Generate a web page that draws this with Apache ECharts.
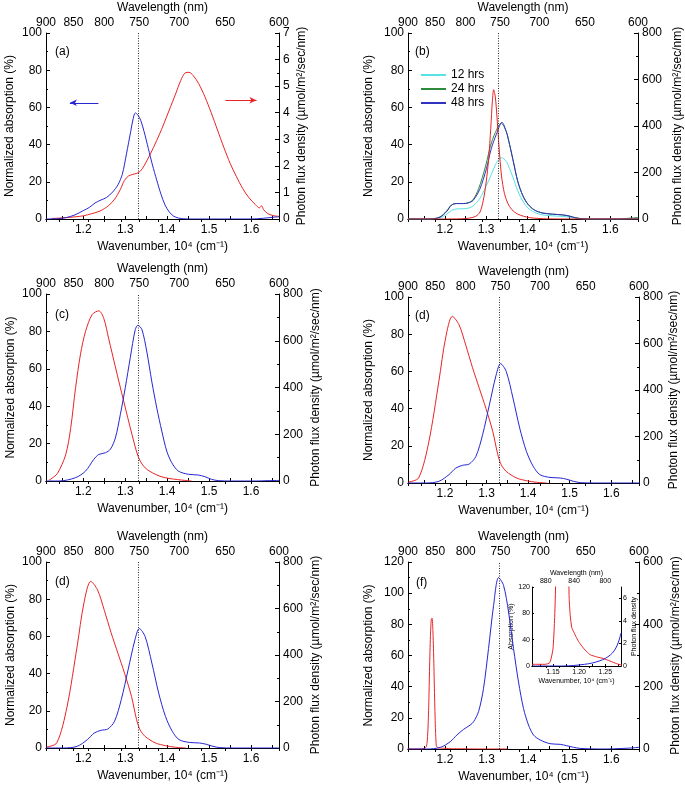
<!DOCTYPE html>
<html><head><meta charset="utf-8">
<script src="https://cdn.jsdelivr.net/npm/echarts@6/dist/echarts.min.js"></script>
<style>html,body{margin:0;padding:0;background:#fff}#c{width:685px;height:787px}</style>
</head><body><div id="c"></div><script>
// ---------- axis tick definitions ----------
const wlLabels = [900, 850, 800, 750, 700, 650, 600];          // nm (top axis)
const wlTicks = [900, 875, 850, 825, 800, 775, 750, 725, 700, 675, 650, 625, 600];
const wnLabels = [1.2, 1.3, 1.4, 1.5, 1.6];                     // 10^4 cm^-1 (bottom axis)
const wnTicks = [1.15, 1.2, 1.25, 1.3, 1.35, 1.4, 1.45, 1.5, 1.55, 1.6, 1.65];
const insetWlLabels = [880, 840, 800];
const insetWlTicks = [880, 860, 840, 820, 800];
const insetWnLabels = [1.15, 1.20, 1.25];
const insetWnTicks = [1.125, 1.15, 1.175, 1.2, 1.225, 1.25, 1.275];
const refWavelength = 750;                                      // dotted line (nm)
const legendNames = ['12 hrs', '24 hrs', '48 hrs'];
const panelLabels = ['(a)', '(b)', '(c)', '(d)', '(d)', '(f)'];

// ---------- data: [wavenumber (10^4 cm^-1), value] ----------
// (a) absorption (%) and photon flux (right axis, 0-7)
const absA = [[1.111,0],[1.14,0.2],[1.16,0.8],[1.18,2.2],[1.20,4.5],[1.215,6.3],[1.228,8.6],[1.24,10],[1.255,11.5],[1.27,14.5],[1.283,18.5],[1.293,24],[1.303,35],[1.313,47],[1.319,54],[1.324,57],[1.33,56],[1.337,53],[1.345,47],[1.355,38],[1.365,29],[1.375,21],[1.385,13.5],[1.395,7.5],[1.405,3.8],[1.415,1.6],[1.427,0.5],[1.44,0.1],[1.46,0],[1.6,0],[1.63,0.4],[1.65,0.9],[1.667,1.2]];
const fluxA = [[1.125,0.02],[1.15,0.04],[1.18,0.08],[1.2,0.12],[1.22,0.2],[1.24,0.3],[1.26,0.5],[1.275,0.75],[1.288,1.1],[1.298,1.45],[1.308,1.62],[1.318,1.68],[1.328,1.72],[1.336,1.8],[1.345,2.0],[1.36,2.45],[1.375,2.95],[1.39,3.5],[1.405,4.1],[1.42,4.7],[1.432,5.2],[1.443,5.5],[1.452,5.52],[1.462,5.4],[1.475,5.1],[1.49,4.6],[1.505,4.0],[1.52,3.35],[1.535,2.7],[1.55,2.1],[1.565,1.6],[1.58,1.15],[1.595,0.8],[1.61,0.55],[1.62,0.42],[1.625,0.5],[1.63,0.35],[1.64,0.2],[1.655,0.12],[1.667,0.1]];
const arrowAbsA = [[1.236,62.5],[1.168,62.5]];
const arrowFluxA = [[1.539,4.47],[1.613,4.47]];

// (b) absorption after 12/24/48 hrs and photon flux (0-800)
const abs12B = [[1.111,0],[1.1644,0],[1.1884,0.6],[1.2044,2.5],[1.2164,4.6],[1.2284,5.4],[1.2444,5.5],[1.2564,5.8],[1.2685,7],[1.2845,11],[1.3005,18],[1.3125,24],[1.3245,30],[1.3365,33],[1.3485,31],[1.3565,27],[1.3645,22.5],[1.3765,15],[1.3886,9.5],[1.4006,6],[1.4166,3.5],[1.4366,2.2],[1.4606,1.7],[1.4846,1.4],[1.5006,1],[1.5166,0.4],[1.5327,0.1],[1.5567,0],[1.64,0],[1.667,0.3]];
const abs24B = [[1.111,0],[1.164,0],[1.188,1.1],[1.204,4.2],[1.216,7.6],[1.228,8.3],[1.244,8.3],[1.256,8.7],[1.268,10.3],[1.282,16.5],[1.298,28],[1.31,39],[1.322,46.5],[1.336,51.5],[1.3485,47],[1.3565,40],[1.3645,32],[1.3765,20],[1.3886,12.5],[1.4006,8],[1.4166,4.8],[1.4366,3.2],[1.4606,2.6],[1.4846,2.2],[1.5006,1.6],[1.5166,0.6],[1.5327,0.15],[1.5567,0],[1.62,0],[1.645,0.4],[1.667,0.8]];
const abs48B = [[1.111,0],[1.1644,0],[1.1884,1],[1.2044,4],[1.2164,7.5],[1.2284,8.3],[1.2444,8.3],[1.2564,8.6],[1.2685,10],[1.2845,16],[1.3005,27],[1.3125,38],[1.3245,45.5],[1.3381,52],[1.3485,47],[1.3565,40],[1.3645,32],[1.3765,20],[1.3886,12.5],[1.4006,8],[1.4166,4.8],[1.4366,3.2],[1.4606,2.6],[1.4846,2.2],[1.5006,1.6],[1.5166,0.6],[1.5327,0.15],[1.5567,0],[1.667,0]];
const fluxB = [[1.111,0],[1.2,0],[1.24,1],[1.26,4],[1.275,12],[1.285,30],[1.293,80],[1.3,160],[1.306,260],[1.311,390],[1.315,510],[1.318,556],[1.322,525],[1.326,440],[1.331,310],[1.337,185],[1.344,110],[1.352,68],[1.362,40],[1.375,22],[1.39,12],[1.405,6],[1.425,2.5],[1.45,0.6],[1.5,0],[1.667,0]];

// (c)
const absC = [[1.111,0],[1.1421,0],[1.1817,1.8],[1.2054,5.3],[1.2251,11.6],[1.237,14.2],[1.2528,15.1],[1.2647,17],[1.2765,23],[1.2884,35.6],[1.3002,50],[1.3121,66],[1.324,81],[1.3303,83.3],[1.3398,81],[1.3516,69],[1.3635,53],[1.3753,39],[1.3872,26.7],[1.399,16],[1.4109,9.8],[1.4267,5.3],[1.4504,3.6],[1.4741,3.2],[1.49,2.3],[1.5058,0.9],[1.5216,0.2],[1.5532,0],[1.6165,0],[1.6402,0.2],[1.667,0.3]];
const fluxC = [[1.118,4],[1.1224,8],[1.1382,32],[1.158,112],[1.1698,224],[1.1817,400],[1.1935,544],[1.2054,640],[1.2212,712],[1.237,728],[1.2488,696],[1.2607,608],[1.2765,488],[1.2963,342],[1.316,200],[1.3319,100],[1.3477,56],[1.3714,29],[1.3951,14],[1.4346,4],[1.4583,0]];

// (d) (same measurement shown twice)
const absD = [[1.111,0],[1.153,0],[1.1854,0.9],[1.2097,4.5],[1.2259,8],[1.2421,9.5],[1.2583,10.2],[1.2744,14.3],[1.2906,26],[1.3068,42],[1.323,58],[1.3336,64.2],[1.3473,60],[1.3635,45.7],[1.3797,29.6],[1.3959,17],[1.4121,9],[1.4283,4.5],[1.4526,3],[1.4769,2.7],[1.4931,2],[1.5093,0.9],[1.5255,0.2],[1.5579,0],[1.667,0]];
const fluxD = [[1.1125,4],[1.1368,22],[1.1611,176],[1.1854,438],[1.2016,624],[1.2178,717],[1.234,680],[1.2502,592],[1.2663,496],[1.2825,408],[1.2987,320],[1.3149,222],[1.3271,122],[1.3352,79],[1.3473,50],[1.3716,22],[1.3959,10],[1.4202,3],[1.4445,0]];

// (f) main + inset
const absF = [[1.111,0],[1.1567,0],[1.1888,1],[1.2128,4.7],[1.2288,9],[1.2448,12.6],[1.2608,15.4],[1.2688,17.5],[1.2808,24],[1.2928,39],[1.3048,64.5],[1.3169,92],[1.3289,110],[1.3409,105],[1.3529,88],[1.3649,64.5],[1.3769,43],[1.3889,26],[1.4009,15.4],[1.4129,9],[1.4289,5.8],[1.4529,3.4],[1.477,3],[1.493,2.1],[1.509,1.1],[1.525,0.4],[1.549,0.1],[1.589,0],[1.621,0.3],[1.645,0.6],[1.667,1.1]];
const fluxF = [[1.11,0.15],[1.125,0.15],[1.135,0.15],[1.144,0.3],[1.15,1.5],[1.153,4],[1.155,7],[1.157,20],[1.159,60],[1.161,140],[1.163,260],[1.165,360],[1.167,415],[1.169,420],[1.171,380],[1.173,290],[1.175,170],[1.177,70],[1.179,12],[1.181,6],[1.183,4.5],[1.186,3.4],[1.19,3.0],[1.195,2.5],[1.2,2.1],[1.208,1.6],[1.215,1.25],[1.221,1.0],[1.234,0.8],[1.246,0.67],[1.259,0.44],[1.272,0.2],[1.28,0.1],[1.3,0.05],[1.35,0]];
const insetAbsF = [[1.11,0],[1.17,0],[1.19,0.8],[1.21,2.5],[1.225,4.5],[1.24,8],[1.25,11.5],[1.26,17],[1.267,23],[1.273,32],[1.277,41],[1.28,50]];

// ---------- styling / layout ----------
const FONT = 'Liberation Sans, Arial, Helvetica, sans-serif';
const BLUE = '#2626d4', RED = '#e82424', CYAN = '#55e3e3', GREEN = '#2f8a3c', NAVY = '#3232c0';
const wnMin = 1000 / 900, wnMax = 1000 / 600;
const FLUX_NAME = 'Photon flux density (\u00b5mol/m\u00b2/sec/nm)';
const DOT_STYLE = {type: [1, 1.5], color: '#333', width: 1};

const panels = [
  {rect: [46, 33, 233, 186],  yL: [0, 100, 20], yR: [0, 7, 1],     gapL: 30, gapR: 17},
  {rect: [408, 33, 231, 186], yL: [0, 100, 20], yR: [0, 800, 200], gapL: 33, gapR: 34},
  {rect: [46, 294, 233, 187], yL: [0, 100, 20], yR: [0, 800, 200], gapL: 29, gapR: 31},
  {rect: [408, 297, 231, 186], yL: [0, 100, 20], yR: [0, 800, 200], gapL: 33, gapR: 29},
  {rect: [46, 562, 233, 186], yL: [0, 100, 20], yR: [0, 800, 200], gapL: 29, gapR: 31},
  {rect: [408, 562, 231, 187], yL: [0, 120, 20], yR: [0, 600, 200], gapL: 33, gapR: 31}
];
const labelPos = [[55, 46], [415, 46], [55, 309], [415, 310], [55, 576], [416, 577]];

const grids = [], xAxes = [], yAxes = [], series = [], graphics = [];
const txt = (size) => ({fontSize: size, fontFamily: FONT, color: '#000'});
const line = {show: true, lineStyle: {color: '#000', width: 1}};

panels.forEach((p, i) => {
  grids.push({left: p.rect[0], top: p.rect[1], width: p.rect[2], height: p.rect[3], containLabel: false});
  xAxes.push({
    gridIndex: i, type: 'value', min: wnMin, max: wnMax, position: 'bottom',
    axisLine: line, splitLine: {show: false},
    axisTick: {inside: true, length: 3, customValues: wnTicks, lineStyle: {color: '#000'}},
    axisLabel: Object.assign({customValues: wnLabels, formatter: v => v.toFixed(1), margin: 5}, txt(12)),
    name: 'Wavenumber, 10\u2074 (cm\u207b\u00b9)', nameLocation: 'middle', nameGap: 22, nameTextStyle: txt(12)
  });
  xAxes.push({
    gridIndex: i, type: 'value', min: wnMin, max: wnMax, position: 'top',
    axisLine: line, splitLine: {show: false},
    axisTick: {inside: true, length: 3, customValues: wlTicks.map(w => 1000 / w), lineStyle: {color: '#000'}},
    axisLabel: Object.assign({customValues: wlLabels.map(w => 1000 / w), formatter: v => String(Math.round(1000 / v)), margin: 4}, txt(12)),
    name: 'Wavelength (nm)', nameLocation: 'middle', nameGap: 19, nameTextStyle: txt(12)
  });
  yAxes.push({
    gridIndex: i, type: 'value', min: p.yL[0], max: p.yL[1], interval: p.yL[2], position: 'left',
    axisLine: line, splitLine: {show: false},
    axisTick: {inside: true, length: 4, lineStyle: {color: '#000'}},
    minorTick: {show: true, splitNumber: 2, length: 2, lineStyle: {color: '#000'}},
    axisLabel: Object.assign({margin: 4}, txt(12)),
    name: 'Normalized absorption (%)', nameLocation: 'middle', nameGap: p.gapL, nameTextStyle: txt(12)
  });
  yAxes.push({
    gridIndex: i, type: 'value', min: p.yR[0], max: p.yR[1], interval: p.yR[2], position: 'right',
    axisLine: line, splitLine: {show: false},
    axisTick: {inside: true, length: 4, lineStyle: {color: '#000'}},
    minorTick: {show: true, splitNumber: 2, length: 2, lineStyle: {color: '#000'}},
    axisLabel: Object.assign({margin: 4}, txt(12)),
    name: FLUX_NAME, nameLocation: 'middle', nameGap: p.gapR, nameTextStyle: txt(12)
  });
  graphics.push({type: 'text', left: labelPos[i][0], top: labelPos[i][1],
    style: {text: panelLabels[i], font: '12px ' + FONT, fill: '#000'}});
});

// inset grid (index 6)
grids.push({left: 532, top: 587, width: 89, height: 79});
xAxes.push({
  gridIndex: 6, type: 'value', min: 1.11, max: 1.28, position: 'bottom',
  axisLine: line, splitLine: {show: false},
  axisTick: {inside: true, length: 2, customValues: insetWnTicks, lineStyle: {color: '#000'}},
  axisLabel: Object.assign({customValues: insetWnLabels, formatter: v => v.toFixed(2), margin: 3}, txt(7)),
  name: 'Wavenumber, 10\u2074 (cm\u207b\u00b9)', nameLocation: 'middle', nameGap: 12, nameTextStyle: txt(7)
});
xAxes.push({
  gridIndex: 6, type: 'value', min: 1.11, max: 1.28, position: 'top',
  axisLine: line, splitLine: {show: false},
  axisTick: {inside: true, length: 2, customValues: insetWlTicks.map(w => 1000 / w), lineStyle: {color: '#000'}},
  axisLabel: Object.assign({customValues: insetWlLabels.map(w => 1000 / w), formatter: v => String(Math.round(1000 / v)), margin: 2}, txt(7)),
  name: 'Wavelength (nm)', nameLocation: 'middle', nameGap: 10, nameTextStyle: txt(7)
});
yAxes.push({
  gridIndex: 6, type: 'value', min: 0, max: 120, interval: 40, position: 'left',
  axisLine: line, splitLine: {show: false},
  axisTick: {inside: true, length: 2, lineStyle: {color: '#000'}},
  axisLabel: Object.assign({margin: 2}, txt(7)),
  name: 'Absorption (%)', nameLocation: 'middle', nameGap: 7, nameTextStyle: txt(7)
});
yAxes.push({
  gridIndex: 6, type: 'value', min: 0, max: 7, interval: 2, position: 'right',
  axisLine: line, splitLine: {show: false},
  axisTick: {inside: true, length: 2, lineStyle: {color: '#000'}},
  axisLabel: Object.assign({margin: 2, showMaxLabel: false}, txt(7)),
  name: 'Photon flux density', nameLocation: 'middle', nameGap: 6, nameTextStyle: txt(7)
});

function curve(name, data, g, right, color, extra) {
  return Object.assign({
    name: name, type: 'line', data: data, xAxisIndex: 2 * g, yAxisIndex: 2 * g + (right ? 1 : 0),
    showSymbol: false, symbol: 'none', smooth: 0.3, clip: true,
    lineStyle: {width: 1, color: color}, itemStyle: {color: color}, emphasis: {disabled: true}
  }, extra || {});
}
const dotted = {
  silent: true, symbol: ['none', 'none'], label: {show: false}, animation: false,
  lineStyle: DOT_STYLE,
  data: [{xAxis: 1000 / refWavelength}]
};
function arrowMark(pts, color) {
  return {
    silent: true, symbol: ['none', 'none'], label: {show: false}, animation: false,
    data: [[{coord: pts[0], symbol: 'none', lineStyle: {color: color, width: 1, type: 'solid'}},
            {coord: pts[1], symbol: 'arrow', symbolSize: [5, 7], itemStyle: {color: color}}]]
  };
}

// (a)
series.push(curve('fluxA', fluxA, 0, true, RED, {markLine: arrowMark(arrowFluxA, RED)}));
series.push(curve('absA', absA, 0, false, BLUE, {markLine: {
  silent: true, symbol: ['none', 'none'], label: {show: false}, animation: false,
  data: [
    {xAxis: 1000 / refWavelength, lineStyle: DOT_STYLE},
    [{coord: arrowAbsA[0], symbol: 'none', lineStyle: {color: BLUE, width: 1, type: 'solid'}},
     {coord: arrowAbsA[1], symbol: 'arrow', symbolSize: [5, 7], itemStyle: {color: BLUE}}]
  ]}}));
// (b)
series.push(curve(legendNames[0], abs12B, 1, false, CYAN));
series.push(curve(legendNames[1], abs24B, 1, false, GREEN));
series.push(curve(legendNames[2], abs48B, 1, false, NAVY, {markLine: dotted}));
series.push(curve('fluxB', fluxB, 1, true, RED));
// (c)
series.push(curve('fluxC', fluxC, 2, true, RED));
series.push(curve('absC', absC, 2, false, BLUE, {markLine: dotted}));
// (d) right
series.push(curve('fluxD', fluxD, 3, true, RED));
series.push(curve('absD', absD, 3, false, BLUE, {markLine: dotted}));
// (d) bottom-left
series.push(curve('fluxD2', fluxD, 4, true, RED));
series.push(curve('absD2', absD, 4, false, BLUE, {markLine: dotted}));
// (f)
series.push(curve('fluxF', fluxF, 5, true, RED, {smooth: 0.2}));
series.push(curve('absF', absF, 5, false, BLUE, {markLine: dotted}));
// inset
series.push(curve('insetFlux', fluxF, 6, true, RED, {smooth: 0.2}));
series.push(curve('insetAbs', insetAbsF, 6, false, BLUE));

const chart = echarts.init(document.getElementById('c'), null, {renderer: 'canvas'});
chart.setOption({
  animation: false,
  backgroundColor: '#fff',
  grid: grids, xAxis: xAxes, yAxis: yAxes, series: series,
  legend: {
    data: legendNames, orient: 'vertical', left: 421, top: 68, padding: 0,
    itemWidth: 25, itemHeight: 2, itemGap: 0, icon: 'rect', selectedMode: false,
    textStyle: {fontSize: 12, lineHeight: 14, fontFamily: FONT, color: '#000'}
  },
  graphic: graphics
});
</script></body></html>
